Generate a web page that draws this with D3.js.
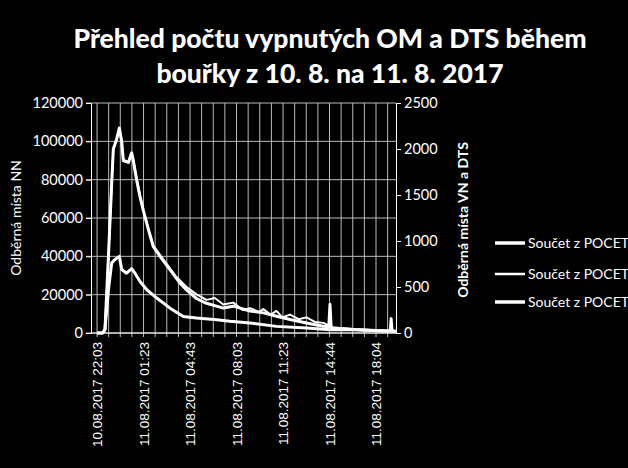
<!DOCTYPE html>
<html><head><meta charset="utf-8">
<script src="https://cdn.jsdelivr.net/npm/d3@7"></script>
<style>body{margin:0;background:#000}svg{display:block}text{fill:#fff}</style>
</head><body>
<svg id="c" width="628" height="468"></svg>
<script>
// data
const timesNN = ['22:03','22:27','22:37','22:52','23:06','23:13','23:27','23:39','23:49','23:56','00:18','00:32','00:39','00:53','01:08','01:22','01:44','02:05','02:34','03:17','04:00','04:28','05:11','05:54','07:06','07:49','09:01','09:58','10:55','11:53','13:04','14:16','14:40','14:45','14:50','14:59','16:39','18:30','19:05','19:08','19:12','19:29'];
const valuesNN = [0,0,1700,40000,78000,96000,101000,107000,100000,90000,89000,94000,90000,80000,71000,64000,54000,45000,40000,33000,26000,22500,18000,15500,13000,14000,11500,10500,8700,7000,5200,3500,3200,15000,3000,2600,1700,1000,1200,7500,1000,800];
const timesVN = ['22:03','22:27','22:37','22:52','23:06','23:13','23:27','23:39','23:49','23:56','00:18','00:32','00:39','00:53','01:08','01:22','01:44','02:05','02:34','03:17','03:40','04:00','04:28','05:11','05:54','06:30','07:06','07:49','08:30','09:01','09:40','09:58','10:30','10:55','11:20','11:53','12:30','13:04','13:40','14:16','14:59','16:39','18:30','19:29'];
const valuesVN = [0,0,40,820,1620,2000,2100,2210,2090,1880,1860,1950,1880,1680,1490,1340,1130,950,850,700,620,570,500,420,360,380,310,330,250,270,230,260,200,240,170,200,150,170,120,110,60,40,25,15];
const timesDTS = ['22:03','22:27','22:37','22:52','23:06','23:20','23:39','23:49','24:10','00:32','00:46','01:08','01:37','02:20','03:17','04:14','05:11','06:38','07:35','09:01','10:55','13:04','14:45','16:39','19:29'];
const valuesDTS = [0,0,36,470,760,800,833,690,650,700,650,560,470,380,270,180,163,145,127,109,72,54,36,36,20];
const xTicks = ['22:03','01:23','04:43','08:03','11:23','14:44','18:04'];
const legendItems = ['Součet z POCET','Součet z POCET','Součet z POCET'];

const parse = t => {
  const [h, m] = t.split(':').map(Number);
  const day = h >= 21 && h < 24 ? 10 : 11;
  return new Date(2017, 7, day, h % 24, m);
};
const fmt = d3.timeFormat('%d.%m.%Y %H:%M');

const svg = d3.select('#c');
const m = { l: 91, r: 396, t: 103, b: 333 };
const x = d3.scaleTime()
  .domain([new Date(2017, 7, 10, 21, 37), new Date(2017, 7, 11, 19, 29)])
  .range([m.l, m.r]);
const yL = d3.scaleLinear().domain([0, 120000]).range([m.b, m.t]);
const yR = d3.scaleLinear().domain([0, 2500]).range([m.b, m.t]);

// vertical grid every 50 min
const start = parse('22:03');
const minor = d3.range(-1, 26).map(i => new Date(+start + i * 50 * 60000))
  .filter(d => d >= x.domain()[0] && d <= x.domain()[1]);
svg.append('g').selectAll('line').data(minor).join('line')
  .attr('x1', d => x(d)).attr('x2', d => x(d))
  .attr('y1', m.t).attr('y2', m.b + 4)
  .attr('stroke', '#bbb').attr('stroke-width', 1);
svg.append('g').selectAll('line').data(yL.ticks(6)).join('line')
  .attr('x1', m.l - 5).attr('x2', m.r)
  .attr('y1', d => yL(d)).attr('y2', d => yL(d))
  .attr('stroke', '#bbb').attr('stroke-width', 1);

// axes
const gl = svg.append('g').attr('transform', `translate(${m.l},0)`)
  .call(d3.axisLeft(yL).ticks(6).tickSize(5).tickFormat(d3.format('d')));
const gr = svg.append('g').attr('transform', `translate(${m.r},0)`)
  .call(d3.axisRight(yR).ticks(5).tickSize(5).tickFormat(d3.format('d')));
[gl, gr].forEach(g => {
  g.selectAll('path,line').attr('stroke', '#fff');
  g.selectAll('text').attr('fill', '#fff').style('font', '14.5px Lato');
});
svg.append('line').attr('x1', m.l).attr('x2', m.r).attr('y1', m.b).attr('y2', m.b)
  .attr('stroke', '#fff');

svg.append('g').selectAll('text').data(xTicks).join('text')
  .attr('transform', t => `translate(${x(parse(t)) + 5},342) rotate(-90)`)
  .attr('text-anchor', 'end')
  .style('font', '13.5px "Liberation Sans"')
  .text(t => fmt(parse(t)));

// lines
const series = [
  { t: timesNN, v: valuesNN, y: yL, w: 3 },
  { t: timesVN, v: valuesVN, y: yR, w: 2 },
  { t: timesDTS, v: valuesDTS, y: yR, w: 3 }
];
series.forEach(s => {
  const line = d3.line().x((d, i) => x(parse(s.t[i]))).y(d => s.y(d));
  svg.append('path').datum(s.v).attr('d', line)
    .attr('fill', 'none').attr('stroke', '#fff')
    .attr('stroke-width', s.w).attr('stroke-linejoin', 'round');
});

// titles
svg.append('text').attr('x', 330).attr('y', 48).attr('text-anchor', 'middle')
  .style('font', '900 26.5px Lato').text('Přehled počtu vypnutých OM a DTS během');
svg.append('text').attr('x', 330).attr('y', 83).attr('text-anchor', 'middle')
  .style('font', '900 26.5px Lato').text('bouřky z 10. 8. na 11. 8. 2017');
svg.append('text').attr('transform', 'translate(21,218) rotate(-90)')
  .attr('text-anchor', 'middle').style('font', '14px Lato').text('Odběrná místa NN');
svg.append('text').attr('transform', 'translate(468,220) rotate(-90)')
  .attr('text-anchor', 'middle').style('font', 'bold 14px Lato').text('Odběrná místa VN a DTS');

// legend
const lg = svg.append('g').selectAll('g').data(legendItems).join('g')
  .attr('transform', (d, i) => `translate(495,${[243, 274, 302][i]})`);
lg.append('line').attr('x1', 0).attr('x2', 30)
  .attr('stroke', '#fff').attr('stroke-width', (d, i) => series[i].w + 0.5);
lg.append('text').attr('x', 33).attr('dy', '0.35em')
  .style('font', '14px Lato').text(d => d);
</script>
</body></html>
